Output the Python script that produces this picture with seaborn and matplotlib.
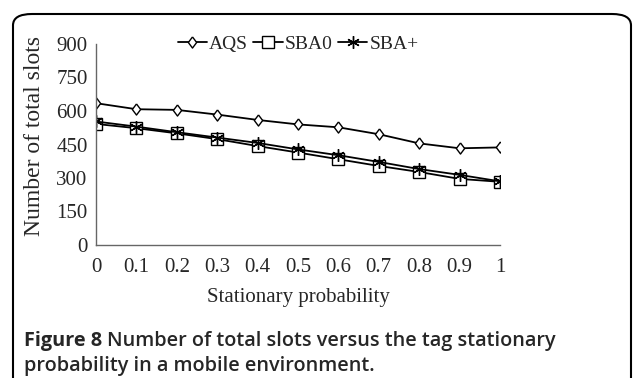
import matplotlib
matplotlib.use("Agg")
import matplotlib.pyplot as plt
import seaborn as sns
import pandas as pd
from matplotlib.patches import FancyBboxPatch

prob = [0, 0.1, 0.2, 0.3, 0.4, 0.5, 0.6, 0.7, 0.8, 0.9, 1.0]
aqs = [635, 608, 605, 584, 560, 540, 527, 496, 455, 433, 437]
sba0 = [542, 523, 500, 474, 443, 414, 384, 354, 327, 296, 283]
sba_plus = [553, 530, 505, 481, 457, 428, 402, 372, 340, 314, 285]
series_names = ["AQS", "SBA0", "SBA+"]
x_ticks = [0, 0.1, 0.2, 0.3, 0.4, 0.5, 0.6, 0.7, 0.8, 0.9, 1]
x_tick_labels = ["0", "0.1", "0.2", "0.3", "0.4", "0.5", "0.6", "0.7", "0.8", "0.9", "1"]
y_ticks = [0, 150, 300, 450, 600, 750, 900]

df = pd.DataFrame({
    "prob": prob * 3,
    "slots": aqs + sba0 + sba_plus,
    "series": [series_names[0]] * len(prob) + [series_names[1]] * len(prob) + [series_names[2]] * len(prob),
})

sns.set_style("white")
plt.rcParams["font.family"] = ["Liberation Serif", "DejaVu Serif"]

W, H = 634, 378
fig = plt.figure(figsize=(W / 100, H / 100), dpi=100)
ax = fig.add_axes([96 / W, 1 - 245 / H, (500 - 96) / W, (245 - 44) / H])

tall_diamond = [(0, 1), (0.75, 0), (0, -1), (-0.75, 0), (0, 1)]
markers = {"AQS": tall_diamond, "SBA0": "s", "SBA+": (6, 2, 0)}
msizes = {"AQS": 8, "SBA0": 8, "SBA+": 9}
for name in series_names:
    sub = df[df["series"] == name]
    sns.lineplot(data=sub, x="prob", y="slots", ax=ax, color="black", linewidth=1.3,
                 marker=markers[name], markersize=msizes[name],
                 markerfacecolor="white" if name != "SBA+" else "black",
                 markeredgecolor="black", markeredgewidth=1.0, label=name)

ax.set_xlim(0, 1)
ax.set_ylim(0, 900)
ax.set_xticks(x_ticks)
ax.set_xticklabels(x_tick_labels)
ax.set_yticks(y_ticks)
for s in ["top", "right"]:
    ax.spines[s].set_visible(False)
for s in ["left", "bottom"]:
    ax.spines[s].set_color("#666666")
    ax.spines[s].set_linewidth(1.0)
ax.tick_params(axis="x", direction="in", length=4, color="#666666", labelsize=15, pad=9)
ax.tick_params(axis="y", direction="in", length=4, color="#666666", labelsize=15, pad=6)
ax.set_xlabel("Stationary probability", fontsize=15)
ax.set_ylabel("Number of total slots", fontsize=17)
ax.xaxis.set_label_coords(0.5, -0.215)
ax.yaxis.set_label_coords(-0.125, 0.54)
ax.grid(False)

leg = ax.legend(loc="center", bbox_to_anchor=(0.5, 1.0), ncol=3, frameon=False,
                fontsize=14, handlelength=1.5, handletextpad=0.1, columnspacing=0.3)

box = FancyBboxPatch((13 / W, -0.2), (631 - 13) / W, 1 - 14 / H + 0.2,
                     boxstyle="round,pad=0,rounding_size=0.03", transform=fig.transFigure,
                     facecolor="none", edgecolor="black", linewidth=1.5, clip_on=False)
fig.patches.append(box)

cap_font = ["Open Sans", "DejaVu Sans"]
cap_size = 14.3
t1 = fig.text(24 / W, 1 - 346 / H, "Figure 8", fontsize=cap_size, fontweight="bold",
              family=cap_font, va="baseline", ha="left")
fig.canvas.draw()
bb = t1.get_window_extent()
x_after = (bb.x1 + 5) / W
fig.text(x_after, 1 - 346 / H, "Number of total slots versus the tag stationary",
         fontsize=cap_size, fontweight="semibold", family=cap_font, va="baseline", ha="left")
fig.text(24 / W, 1 - 371 / H, "probability in a mobile environment.",
         fontsize=cap_size, fontweight="semibold", family=cap_font, va="baseline", ha="left")

fig.savefig("out.png", dpi=100)
